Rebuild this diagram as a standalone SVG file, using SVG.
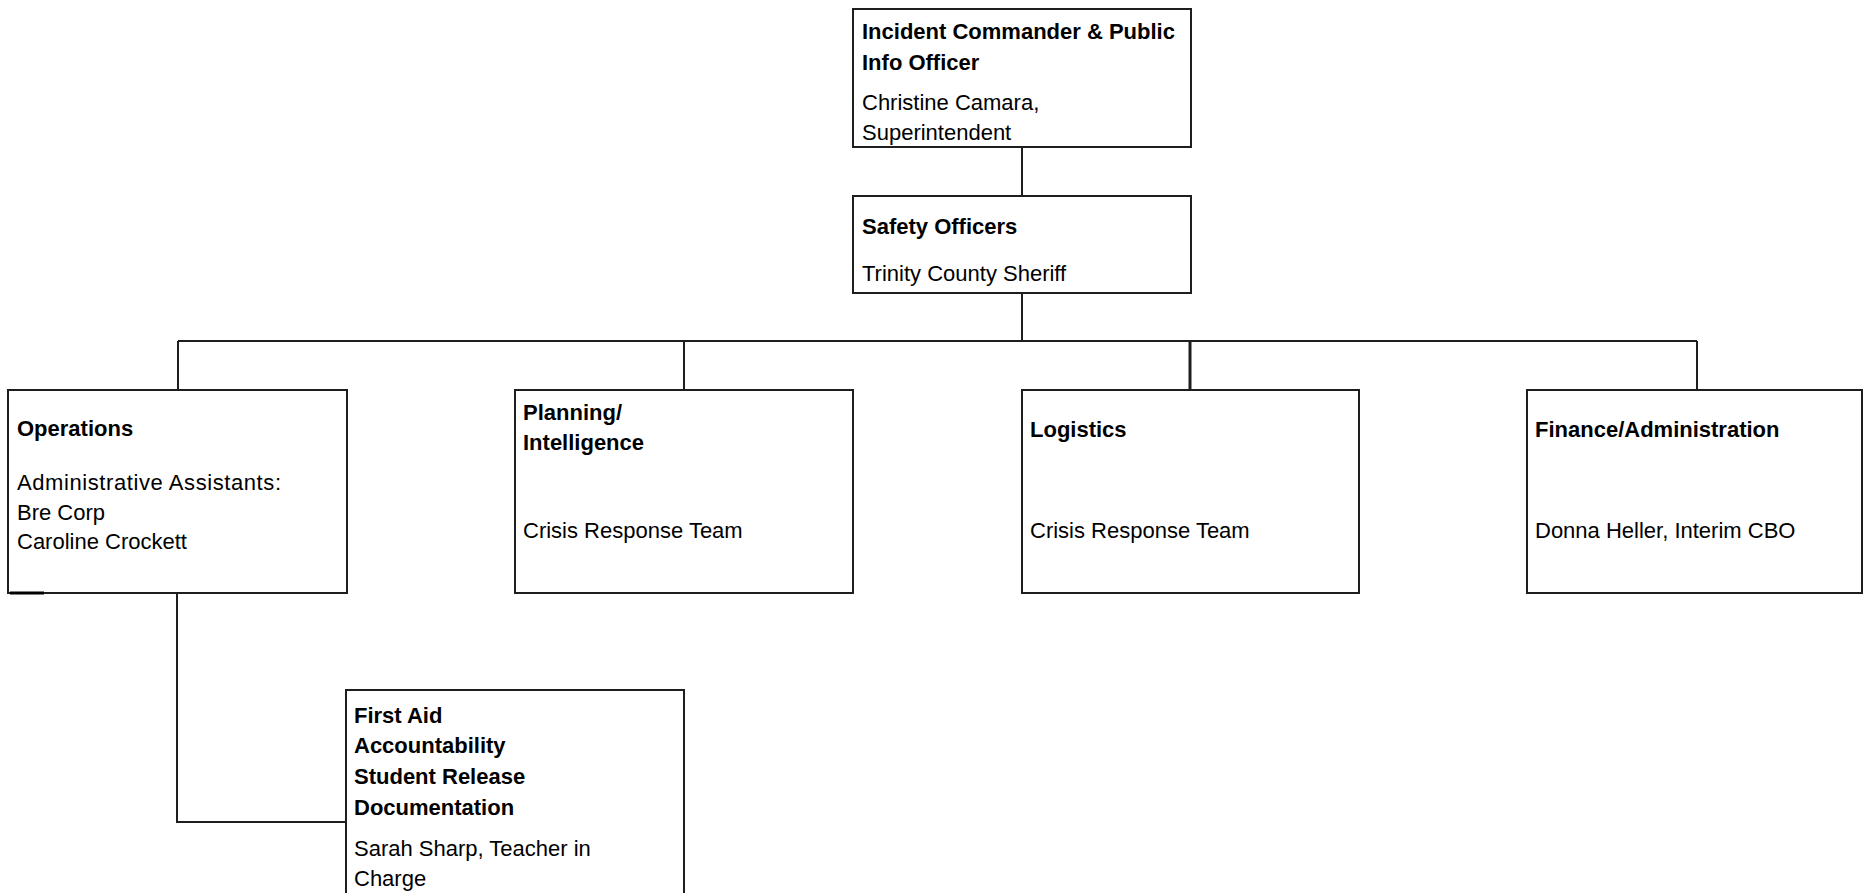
<svg xmlns="http://www.w3.org/2000/svg" width="1871" height="893" viewBox="0 0 1871 893">
<style>
.box{fill:#fff;stroke:#1e1e1e;stroke-width:2}
.ln{fill:none;stroke:#1e1e1e;stroke-width:2}
.b{font-family:"Liberation Sans",Arial,sans-serif;font-size:22px;font-weight:bold;fill:#000}
.r{font-family:"Liberation Sans",Arial,sans-serif;font-size:22px;fill:#000}
</style>
<rect width="1871" height="893" fill="#fff"/>
<g id="connectors">
<line class="ln" x1="1022" y1="147" x2="1022" y2="196"/>
<line class="ln" x1="1022" y1="293" x2="1022" y2="341"/>
<line class="ln" x1="178" y1="341" x2="1697" y2="341"/>
<line class="ln" x1="178" y1="341" x2="178" y2="390"/>
<line class="ln" x1="684" y1="341" x2="684" y2="390"/>
<line class="ln" x1="1190" y1="341" x2="1190" y2="390" style="stroke-width:3"/>
<line class="ln" x1="1697" y1="341" x2="1697" y2="390"/>
<polyline class="ln" points="177,593 177,822 346,822"/>
</g>
<g id="incident-commander">
<rect class="box" x="853" y="9" width="338" height="138"/>
<text class="b" x="862" y="39">Incident Commander &amp; Public</text>
<text class="b" x="862" y="70">Info Officer</text>
<text class="r" x="862" y="110">Christine Camara,</text>
<text class="r" x="862" y="140">Superintendent</text>
</g>
<g id="safety-officers">
<rect class="box" x="853" y="196" width="338" height="97"/>
<text class="b" x="862" y="234">Safety Officers</text>
<text class="r" x="862" y="281">Trinity County Sheriff</text>
</g>
<g id="operations">
<rect class="box" x="8" y="390" width="339" height="203"/>
<line x1="10" y1="593" x2="44" y2="593" stroke="#000" stroke-width="3"/>
<text class="b" x="17" y="436">Operations</text>
<text class="r" x="17" y="490" textLength="264" lengthAdjust="spacing">Administrative Assistants:</text>
<text class="r" x="17" y="520">Bre Corp</text>
<text class="r" x="17" y="549">Caroline Crockett</text>
</g>
<g id="planning">
<rect class="box" x="515" y="390" width="338" height="203"/>
<text class="b" x="523" y="420">Planning/</text>
<text class="b" x="523" y="450">Intelligence</text>
<text class="r" x="523" y="538">Crisis Response Team</text>
</g>
<g id="logistics">
<rect class="box" x="1022" y="390" width="337" height="203"/>
<text class="b" x="1030" y="437">Logistics</text>
<text class="r" x="1030" y="538">Crisis Response Team</text>
</g>
<g id="finance">
<rect class="box" x="1527" y="390" width="335" height="203"/>
<text class="b" x="1535" y="437">Finance/Administration</text>
<text class="r" x="1535" y="538">Donna Heller, Interim CBO</text>
</g>
<g id="first-aid">
<rect class="box" x="346" y="690" width="338" height="220"/>
<text class="b" x="354" y="723">First Aid</text>
<text class="b" x="354" y="753">Accountability</text>
<text class="b" x="354" y="784">Student Release</text>
<text class="b" x="354" y="815">Documentation</text>
<text class="r" x="354" y="856">Sarah Sharp, Teacher in</text>
<text class="r" x="354" y="886">Charge</text>
</g>
</svg>
